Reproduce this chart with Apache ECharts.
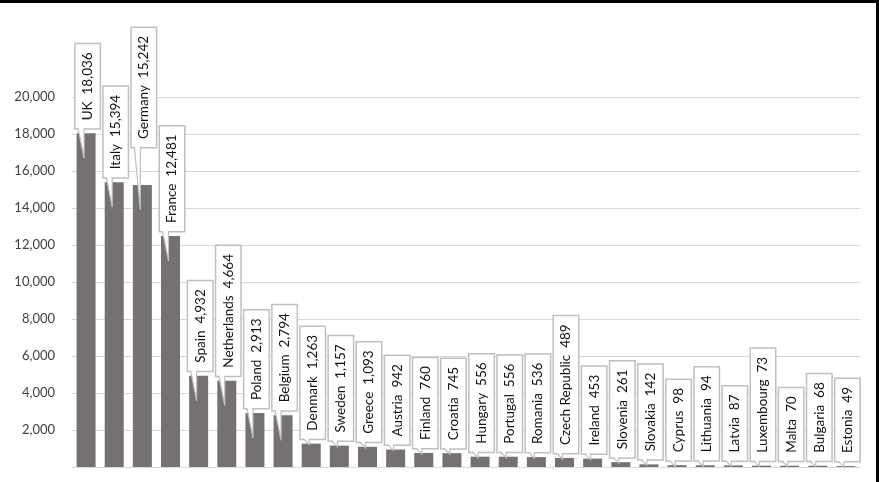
<!DOCTYPE html>
<html>
<head>
<meta charset="utf-8">
<script src="https://cdn.jsdelivr.net/npm/echarts@6/dist/echarts.min.js"></script>
<style>html,body{margin:0;padding:0;background:#fff}#c{width:879px;height:482px}</style>
</head>
<body>
<div id="c"></div>
<script>
const categories = ['UK','Italy','Germany','France','Spain','Netherlands','Poland','Belgium','Denmark','Sweden','Greece','Austria','Finland','Croatia','Hungary','Portugal','Romania','Czech Republic','Ireland','Slovenia','Slovakia','Cyprus','Lithuania','Latvia','Luxembourg','Malta','Bulgaria','Estonia'];
const values = [18036,15394,15242,12481,4932,4664,2913,2794,1263,1157,1093,942,760,745,556,556,536,489,453,261,142,98,94,87,73,70,68,49];
const yTicks = [0,2000,4000,6000,8000,10000,12000,14000,16000,18000,20000];

// label styling tweaks (not data)
const labelLift = { 'Germany': 33 };

const chart = echarts.init(document.getElementById('c'));
const fmt = v => v.toLocaleString('en-US');
const FONT = '13.5px Lato, "Noto Sans", sans-serif';

chart.setOption({
  animation: false,
  grid: { left: 72, right: 19, top: 97, bottom: 15 },
  xAxis: {
    type: 'category', data: categories,
    axisLine: { show: true, lineStyle: { color: '#d9d9d9', width: 1 } },
    axisTick: { show: false }, axisLabel: { show: false }
  },
  yAxis: {
    type: 'value', min: yTicks[0], max: yTicks[yTicks.length - 1], interval: 2000,
    axisLine: { show: false }, axisTick: { show: false },
    splitLine: { lineStyle: { color: '#d9d9d9', width: 1 } },
    axisLabel: {
      margin: 17, color: '#404040', fontSize: 13, fontFamily: 'Lato, "Noto Sans", sans-serif',
      formatter: v => v === 0 ? '' : fmt(v)
    }
  },
  graphic: [
    { type: 'rect', shape: { x: 0, y: 0, width: 879, height: 3 }, style: { fill: '#000' }, z: 100 },
    { type: 'rect', shape: { x: 876, y: 0, width: 3, height: 482 }, style: { fill: '#000' }, z: 100 }
  ],
  series: [
    {
      type: 'bar', data: values, barWidth: 19,
      itemStyle: { color: '#767171' }, silent: true
    },
    {
      type: 'custom', silent: true, z: 5,
      data: values.map((v, i) => [i, v]),
      renderItem: function (params, api) {
        const i = api.value(0), v = api.value(1);
        const top = api.coord([i, v]);
        const base = api.coord([i, 0]);
        const cx = top[0], barTop = top[1];
        const h = base[1] - barTop;
        const lift = labelLift[categories[i]] || 0;
        const boxBottom = barTop - 5 - lift;
        const tipY = barTop + (h >= 45 ? 25 : 1);
        const boxLeft = cx - 12;
        const text = categories[i] + '  ' + fmt(v);
        return {
          type: 'group',
          children: [
            {
              type: 'text', x: cx + 1.5, y: boxBottom, rotation: Math.PI / 2,
              style: {
                text: text, font: FONT, fill: '#111',
                align: 'left', verticalAlign: 'middle',
                backgroundColor: '#fff', borderColor: '#bfbfbf', borderWidth: 1.5,
                padding: [5, 8, 4, 8], lineHeight: 15
              }
            },
            {
              type: 'polygon',
              shape: { points: [[boxLeft + 4, boxBottom - 1.5], [boxLeft + 10, boxBottom - 1.5], [cx - 2, tipY]] },
              style: { fill: '#fff', stroke: null }
            },
            {
              type: 'polyline',
              shape: { points: [[boxLeft + 4, boxBottom], [cx - 2, tipY], [boxLeft + 10, boxBottom]] },
              style: { stroke: '#bfbfbf', lineWidth: 1.2, fill: null }
            }
          ]
        };
      }
    }
  ]
});
</script>
</body>
</html>
